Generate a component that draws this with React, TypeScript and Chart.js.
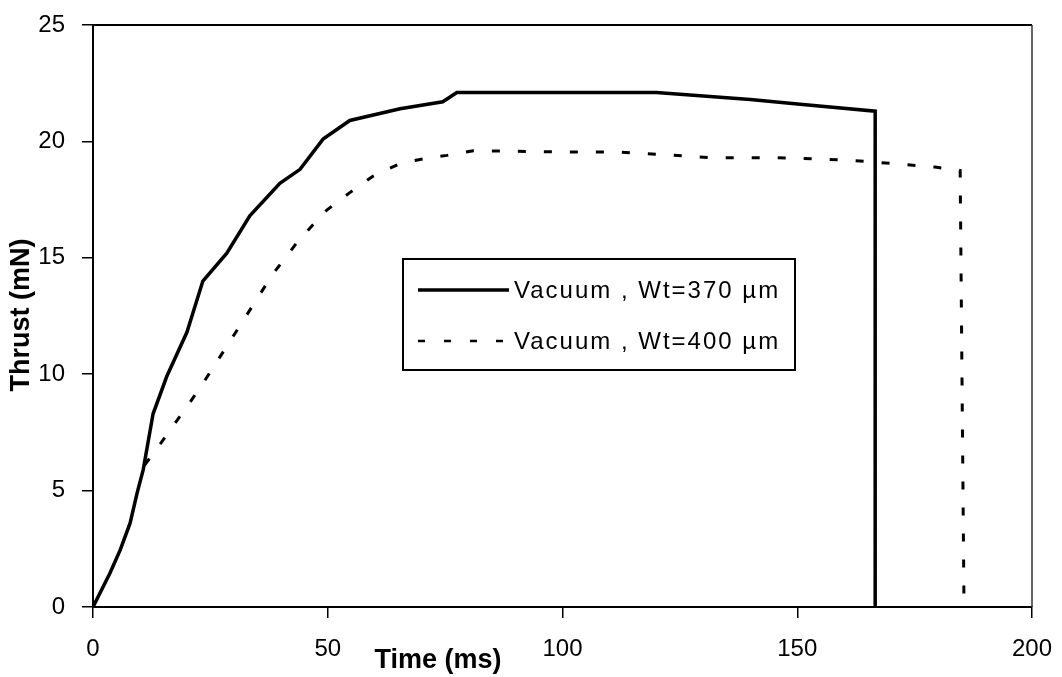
import React, { useEffect, useRef } from "react";
import { Chart, registerables } from "chart.js";

Chart.register(...registerables);

// Series 1: Vacuum, Wt=370 µm (solid)
const timeA = [0, 3.6, 5.8, 7.9, 9.4, 10.7, 12.8, 15.7, 20, 23.4, 28.5, 33.4, 39.8, 44.1, 49, 54.7, 65.4, 74.5, 77.5, 81.8, 120, 130, 140, 150.6, 166.6, 166.6];
const thrustA = [0, 1.45, 2.45, 3.6, 4.9, 5.9, 8.3, 9.9, 11.8, 14.0, 15.2, 16.8, 18.2, 18.8, 20.1, 20.9, 21.4, 21.7, 22.1, 22.1, 22.1, 21.95, 21.8, 21.6, 21.3, 0];

// Series 2: Vacuum, Wt=400 µm (dashed)
const timeB = [11, 14.3, 20, 23.4, 28.5, 33.4, 38.3, 44, 49.8, 54.7, 59.6, 65.4, 70.3, 75.4, 81, 99.5, 111.6, 120.1, 131.4, 145.7, 160.6, 173.4, 179.3, 184.7, 185.5];
const thrustB = [6.1, 7.0, 8.6, 9.6, 11.2, 12.75, 14.3, 15.8, 17.05, 17.8, 18.5, 19.05, 19.25, 19.4, 19.6, 19.55, 19.55, 19.45, 19.3, 19.3, 19.2, 19.0, 18.9, 18.75, 0.5];

const seriesLabels = ["Vacuum , Wt=370 µm", "Vacuum , Wt=400 µm"];
const xTitle = "Time (ms)";
const yTitle = "Thrust (mN)";
const xTicks = [0, 50, 100, 150, 200];
const yTicks = [0, 5, 10, 15, 20, 25];

const FONT = "'Liberation Sans', Arial, sans-serif";
const DASH = [8, 18];

const overlayPlugin = {
  id: "overlay",
  afterDatasetsDraw(chart: any) {
    const { ctx, chartArea: ca } = chart;
    ctx.save();
    // top and right frame
    ctx.lineWidth = 2;
    ctx.strokeStyle = "#000";
    ctx.beginPath();
    ctx.moveTo(ca.left, ca.top);
    ctx.lineTo(ca.right, ca.top);
    ctx.stroke();
    ctx.lineWidth = 1.5;
    ctx.strokeStyle = "#333";
    ctx.beginPath();
    ctx.moveTo(ca.right, ca.top);
    ctx.lineTo(ca.right, ca.bottom);
    ctx.stroke();

    // legend box
    const fx = (f: number) => ca.left + f * ca.width;
    const fy = (f: number) => ca.top + f * ca.height;
    const bx0 = fx((403 - 93) / 939);
    const bx1 = fx((795 - 93) / 939);
    const by0 = fy((259 - 25) / 582);
    const by1 = fy((370 - 25) / 582);
    ctx.fillStyle = "#fff";
    ctx.fillRect(bx0, by0, bx1 - bx0, by1 - by0);
    ctx.lineWidth = 2;
    ctx.strokeStyle = "#000";
    ctx.strokeRect(bx0, by0, bx1 - bx0, by1 - by0);

    const sx0 = fx((418 - 93) / 939);
    const sx1 = fx((509 - 93) / 939);
    const tx = fx((514 - 93) / 939);
    const rows = [fy((290 - 25) / 582), fy((341 - 25) / 582)];
    ctx.font = `24px ${FONT}`;
    ctx.textBaseline = "middle";
    ctx.textAlign = "left";
    ctx.fillStyle = "#000";
    rows.forEach((ry, i) => {
      ctx.beginPath();
      ctx.lineWidth = i === 0 ? 3.5 : 2.5;
      ctx.setLineDash(i === 0 ? [] : [7, 19]);
      ctx.moveTo(sx0, ry);
      ctx.lineTo(sx1, ry);
      ctx.stroke();
      ctx.setLineDash([]);
      (ctx as any).letterSpacing = "2px";
      ctx.fillText(seriesLabels[i], tx, ry + 1);
      (ctx as any).letterSpacing = "0px";
    });

    // axis titles
    ctx.font = `bold 27px ${FONT}`;
    ctx.textAlign = "center";
    ctx.textBaseline = "middle";
    ctx.fillText(xTitle, fx((438 - 93) / 939), ca.bottom + 54);
    ctx.save();
    ctx.translate(22, fy((315 - 25) / 582));
    ctx.rotate(-Math.PI / 2);
    ctx.fillText(yTitle, 0, 0);
    ctx.restore();
    ctx.restore();
  },
};

const zeroPad = (s: any) => {
  s.paddingTop = 0;
  s.paddingBottom = 0;
  s.paddingLeft = 0;
  s.paddingRight = 0;
};

export default function App() {
  const ref = useRef<HTMLCanvasElement>(null);
  useEffect(() => {
    const canvas = ref.current!;
    const chart = new Chart(canvas, {
      type: "line",
      data: {
        datasets: [
          {
            label: seriesLabels[0],
            data: timeA.map((t, i) => ({ x: t, y: thrustA[i] })),
            borderColor: "#000",
            borderWidth: 3.5,
            pointRadius: 0,
            tension: 0,
            fill: false,
          },
          {
            label: seriesLabels[1],
            data: timeB.map((t, i) => ({ x: t, y: thrustB[i] })),
            borderColor: "#000",
            borderWidth: 3,
            borderDash: DASH,
            pointRadius: 0,
            tension: 0,
            fill: false,
          },
        ],
      },
      options: {
        animation: false,
        responsive: false,
        maintainAspectRatio: false,
        layout: { padding: { left: 0, top: 25, right: 30, bottom: 0 } },
        plugins: {
          legend: { display: false },
          tooltip: { enabled: false },
        },
        scales: {
          x: {
            type: "linear",
            min: 0,
            max: 200,
            afterBuildTicks: (s: any) => {
              s.ticks = xTicks.map((v) => ({ value: v }));
            },
            afterFit: (s: any) => {
              s.height = 70;
              zeroPad(s);
            },
            ticks: {
              color: "#000",
              font: { family: FONT, size: 24 },
              padding: 17,
              maxRotation: 0,
            },
            grid: {
              display: true,
              drawOnChartArea: false,
              drawTicks: true,
              tickLength: 11,
              color: "#000",
              lineWidth: 1.5,
            },
            border: { display: true, color: "#000", width: 2 },
          },
          y: {
            type: "linear",
            min: 0,
            max: 25,
            afterBuildTicks: (s: any) => {
              s.ticks = yTicks.map((v) => ({ value: v }));
            },
            afterFit: (s: any) => {
              s.width = 93;
              zeroPad(s);
            },
            ticks: {
              color: "#000",
              font: { family: FONT, size: 24 },
              padding: 17,
            },
            grid: {
              display: true,
              drawOnChartArea: false,
              drawTicks: true,
              tickLength: 11,
              color: "#000",
              lineWidth: 1.5,
            },
            border: { display: true, color: "#000", width: 2 },
          },
        },
      },
      plugins: [overlayPlugin],
    } as any);
    return () => chart.destroy();
  }, []);
  return (
    <div style={{ position: "absolute", left: 0, top: 0, width: 1062, height: 677, background: "#fff" }}>
      <canvas ref={ref} width={1062} height={677} style={{ display: "block" }} />
    </div>
  );
}
